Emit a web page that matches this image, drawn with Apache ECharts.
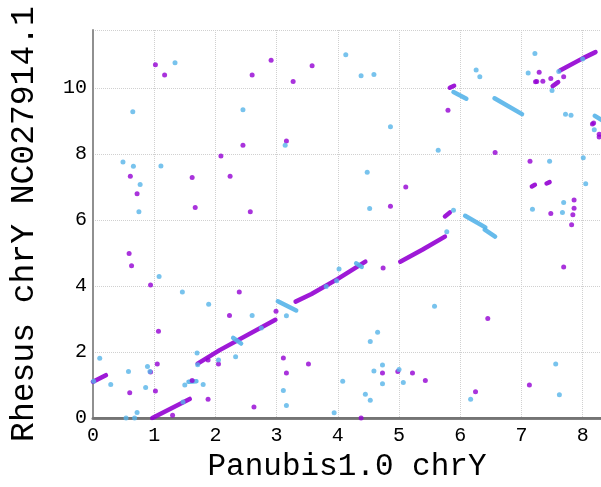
<!DOCTYPE html>
<html>
<head>
<meta charset="utf-8">
<script src="https://cdn.jsdelivr.net/npm/echarts@6/dist/echarts.min.js"></script>
<style>
	html, body { margin: 0; padding: 0; background: #fff; }
	#chart { width: 601px; height: 487px; }
</style>
</head>
<body>
<div id="chart"></div>
<script>
(function() {
	// alignment dots: [Panubis pos, Rhesus pos] in Mb
	const purpleDots = [
		[1.02, 10.71], [1.17, 10.40], [0.61, 7.33], [0.72, 6.80], [1.62, 7.29], [1.67, 6.38],
		[2.09, 7.94], [2.24, 7.33], [2.45, 8.27], [2.57, 6.25], [2.60, 10.40], [2.91, 10.84],
		[3.27, 10.20], [3.16, 8.40], [3.58, 10.68], [5.80, 9.33], [6.57, 8.05], [5.11, 7.00],
		[4.86, 6.42], [7.14, 7.78], [7.48, 6.20], [7.86, 6.61], [7.86, 6.36], [7.84, 6.16],
		[7.82, 5.86], [7.29, 10.48], [7.23, 10.19], [7.25, 10.20], [7.35, 10.21], [7.48, 10.29],
		[7.69, 10.34], [8.16, 8.91], [8.18, 8.94], [8.27, 8.60], [8.27, 8.52],
		[0.59, 4.99], [0.63, 4.62], [0.94, 4.03], [2.39, 3.82], [2.23, 3.11], [1.07, 2.63],
		[1.88, 1.76], [0.94, 1.40], [1.05, 1.64], [0.60, 0.77], [1.02, 0.82], [1.62, 1.14],
		[1.88, 0.57], [1.30, 0.09], [2.05, 1.64], [2.63, 0.34], [2.99, 3.24], [3.11, 1.82],
		[3.16, 1.37], [3.52, 1.64], [4.74, 4.55], [7.69, 4.58], [6.45, 3.02], [4.73, 1.37],
		[4.98, 1.41], [5.22, 1.37], [5.43, 1.14], [4.38, 0.0], [6.25, 0.80], [7.13, 1.00]
	];

	const blueDots = [
		[0.65, 9.28], [1.34, 10.77], [0.49, 7.76], [0.66, 7.63], [0.77, 7.08], [0.75, 6.25],
		[1.11, 7.64], [2.45, 9.34], [3.14, 8.27], [4.13, 11.01], [4.38, 10.37], [4.59, 10.41],
		[4.86, 8.83], [5.64, 8.12], [6.26, 10.55], [6.32, 10.34], [4.48, 7.45], [4.52, 6.35],
		[7.46, 7.78], [7.18, 6.33], [7.69, 6.53], [7.67, 6.23], [8.01, 7.89], [8.05, 7.10],
		[7.72, 9.21], [7.81, 9.18], [7.22, 11.05], [7.11, 10.46], [7.50, 9.93], [8.00, 10.88],
		[7.61, 10.50], [8.19, 8.74], [5.89, 6.30], [5.78, 5.65],
		[1.08, 4.29], [1.46, 3.82], [1.89, 3.45], [2.60, 3.11], [0.11, 1.81], [1.70, 1.97],
		[0.58, 1.41], [0.89, 1.56], [0.93, 1.41], [0.29, 1.02], [0.86, 0.93], [1.50, 1.00],
		[1.80, 1.02], [0.54, 0.0], [0.68, 0.0], [0.72, 0.17], [2.05, 1.76], [2.33, 1.86],
		[0.01, 1.12], [1.47, 0.49], [1.71, 1.62], [2.75, 2.73], [3.16, 3.10], [4.02, 4.52],
		[3.81, 3.99], [3.98, 4.16], [5.58, 3.39], [4.65, 2.60], [4.53, 2.32], [4.73, 1.61],
		[4.59, 1.43], [5.00, 1.47], [5.07, 1.08], [4.73, 1.04], [4.08, 1.12], [4.45, 0.72],
		[4.53, 0.54], [3.94, 0.16], [6.17, 0.57], [7.56, 1.64], [7.62, 0.71], [3.11, 0.84],
		[3.16, 0.38]
	];

	// runs of matches that show up as solid strokes
	const purpleSegments = [
		[[0.0, 1.10], [0.21, 1.30]],
		[[0.97, 0.0], [1.58, 0.58]],
		[[1.71, 1.65], [2.07, 2.06], [2.98, 2.98]],
		[[3.31, 3.53], [3.57, 3.76], [4.0, 4.22], [4.45, 4.74]],
		[[5.02, 4.74], [5.38, 5.10], [5.75, 5.50]],
		[[5.75, 6.11], [5.83, 6.23]],
		[[5.83, 10.01], [5.90, 10.07]],
		[[7.17, 7.02], [7.22, 7.07]],
		[[7.41, 7.11], [7.46, 7.15]],
		[[7.51, 10.06], [7.60, 10.18]],
		[[7.63, 10.53], [8.0, 10.90], [8.21, 11.09]]
	];

	const blueSegments = [
		[[1.56, 1.10], [1.69, 1.12]],
		[[2.29, 2.43], [2.42, 2.26]],
		[[3.02, 3.54], [3.32, 3.26]],
		[[4.30, 4.69], [4.39, 4.58]],
		[[5.89, 9.88], [6.10, 9.68]],
		[[6.56, 9.69], [7.01, 9.21]],
		[[6.08, 6.13], [6.41, 5.78]],
		[[6.40, 5.71], [6.57, 5.50]],
		[[8.20, 9.16], [8.32, 9.02]]
	];

	const purple = "#9400d3";
	const blue = "#56b4e9";
	const mono = "Liberation Mono";

	const chart = echarts.init(document.getElementById("chart"));

	const segSeries = (segs, color) => ({
		type: "lines",
		coordinateSystem: "cartesian2d",
		polyline: true,
		silent: true,
		data: segs.map(s => ({ coords: s })),
		lineStyle: { color: color, width: 4.5, opacity: 0.9, cap: "round", join: "round" }
	});

	const dotSeries = (pts, color) => ({
		type: "scatter",
		data: pts,
		symbolSize: 5,
		silent: true,
		itemStyle: { color: color, opacity: 0.8 }
	});

	chart.setOption({
		animation: false,
		grid: { left: 89, top: 30, right: 0, bottom: 67, containLabel: false },
		xAxis: [
			{
				type: "value",
				min: 0,
				max: 8.3,
				interval: 1,
				name: "Panubis1.0 chrY",
				nameLocation: "middle",
				nameGap: 27,
				nameTextStyle: { fontFamily: mono, fontSize: 31, color: "#000" },
				axisLine: { show: true, onZero: false, lineStyle: { color: "#808080", width: 3 } },
				axisTick: { show: false },
				axisLabel: { fontFamily: mono, fontSize: 20, color: "#000", margin: 8, showMaxLabel: false },
				splitLine: { show: true, lineStyle: { color: "#d0d0d0", type: "dotted", width: 1 } }
			},
			{
				type: "value",
				position: "top",
				min: 0,
				max: 8.3,
				axisLine: { show: true, lineStyle: { color: "#707070", width: 1.5 } },
				axisTick: { show: false },
				axisLabel: { show: false },
				splitLine: { show: false }
			}
		],
		yAxis: {
			type: "value",
			min: 0,
			max: 11.76,
			interval: 2,
			name: "Rhesus chrY NC027914.1",
			nameLocation: "middle",
			nameGap: 52,
			nameTextStyle: { fontFamily: mono, fontSize: 33, color: "#000" },
			axisLine: { show: true, onZero: false, lineStyle: { color: "#909090", width: 2 } },
			axisTick: { show: false },
			axisLabel: { fontFamily: mono, fontSize: 20, color: "#000", margin: 6, showMaxLabel: false },
			splitLine: { show: true, lineStyle: { color: "#d0d0d0", type: "dotted", width: 1 } }
		},
		series: [
			segSeries(purpleSegments, purple),
			segSeries(blueSegments, blue),
			dotSeries(purpleDots, purple),
			dotSeries(blueDots, blue)
		]
	});
})();
</script>
</body>
</html>
